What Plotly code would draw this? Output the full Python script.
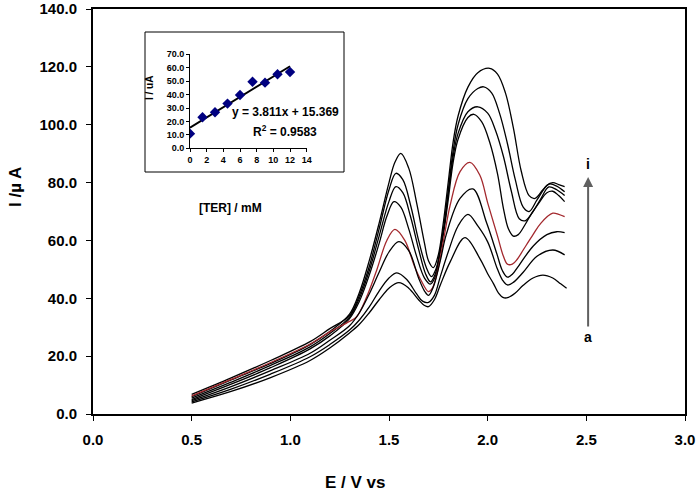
import plotly.graph_objects as go

# ---------------- main voltammograms (E / V, I / uA) ----------------
E1 = [0.5,0.7,0.9,1.1,1.2,1.3,1.35,1.40,1.45,1.50,1.53,1.56,1.60,1.64,1.68,1.70,1.725,1.75,1.775,1.80,1.825,1.85,1.90,1.95,2.01,2.05,2.09,2.13,2.17,2.21,2.24,2.28,2.31,2.35,2.39]
I1 = [6.0,11.8,17.5,24.0,28.5,34.5,42,53,66,80,87,90.1,85,73,59,53,50.6,55,66,80,94,103,113,118,119.5,117.5,111,99,84,75.5,74.5,77.5,79.5,78.8,76.8]

E2 = [0.5,0.7,0.9,1.1,1.2,1.3,1.35,1.40,1.45,1.50,1.535,1.57,1.61,1.65,1.69,1.715,1.74,1.76,1.78,1.80,1.825,1.85,1.90,1.95,1.98,2.02,2.06,2.10,2.14,2.18,2.21,2.25,2.30,2.33,2.36,2.39]
I2 = [6.8,12.5,18.5,25.0,29.5,34.0,41,51,64,77.5,83.2,81,72,60,50.5,47.5,50.5,57,66,77,91,100,109,112.5,113.1,111,104,93.5,81,71.5,70,74,79,80,79.3,78.6]

E3 = [0.5,0.7,0.9,1.1,1.2,1.3,1.35,1.40,1.45,1.50,1.535,1.57,1.61,1.65,1.685,1.71,1.735,1.755,1.78,1.80,1.825,1.85,1.90,1.95,2.00,2.04,2.08,2.12,2.16,2.19,2.23,2.27,2.31,2.35,2.39]
I3 = [5.5,11.0,16.8,23.2,27.8,33.5,40,49.5,61.5,73.5,78.6,76.5,68,57,48.5,45.7,48.5,55,65,76,89,97,104.5,106.2,104,98,89,77,67.5,66.8,70,74.5,78.5,77.5,75.5]

E4 = [0.5,0.7,0.9,1.1,1.2,1.3,1.35,1.40,1.45,1.49,1.525,1.56,1.60,1.64,1.68,1.71,1.735,1.755,1.78,1.80,1.825,1.85,1.90,1.93,1.97,2.01,2.05,2.08,2.105,2.13,2.155,2.19,2.22,2.26,2.30,2.33,2.36,2.39]
I4 = [5.0,10.3,16.0,22.5,27.0,33.0,39,48,59,68.5,73.4,71.5,64,54.5,47,44.9,47.5,54,64,74,87,95,102.5,103.6,101,94,83,71,64,61.5,62,65.5,69,73,76.5,77,75.5,73.4]

E5 = [0.5,0.7,0.9,1.1,1.2,1.3,1.336,1.387,1.438,1.489,1.53,1.58,1.63,1.66,1.70,1.72,1.745,1.775,1.81,1.86,1.91,1.96,2.00,2.05,2.08,2.10,2.125,2.15,2.18,2.23,2.27,2.33,2.36,2.39]
I5 = [6.3,12.0,17.8,24.2,28.4,32.0,33.6,40.5,49.8,60,63.8,60,50.9,46.5,42.3,43.5,49,59.6,72.2,83.8,87,82.6,73,61.5,54.5,51.8,51.8,53.5,56.7,62,66,69.4,69,68.2]

E6 = [0.5,0.7,0.9,1.1,1.2,1.3,1.35,1.40,1.45,1.50,1.55,1.60,1.65,1.68,1.70,1.725,1.76,1.79,1.86,1.925,1.995,2.046,2.075,2.10,2.125,2.16,2.23,2.30,2.35,2.39]
I6 = [4.6,9.5,15.0,21.0,25.5,30.5,35,41.5,49,56,59.6,56.5,47,42.5,41,44,53,62,74.5,77.8,66,55.5,49.5,47.3,48.3,51.5,58,62,63,62.7]

E7 = [0.5,0.7,0.9,1.1,1.2,1.3,1.35,1.40,1.45,1.50,1.54,1.59,1.64,1.67,1.70,1.73,1.76,1.80,1.85,1.90,1.95,2.00,2.05,2.075,2.10,2.13,2.18,2.25,2.33,2.39]
I7 = [4.2,8.6,13.8,19.8,24.0,29.0,32.5,37,42.5,47,48.8,46.5,41.5,39,38.6,41,47.5,56,65,69,65,59.5,50,46.3,44.6,45.5,49,54.5,56.7,55]

E8 = [0.5,0.7,0.9,1.1,1.2,1.3,1.35,1.40,1.45,1.50,1.55,1.60,1.65,1.68,1.70,1.73,1.76,1.81,1.885,1.96,2.00,2.03,2.055,2.08,2.105,2.14,2.18,2.23,2.28,2.33,2.37,2.40]
I8 = [3.8,7.8,12.6,18.5,22.8,28.0,31,35,39.5,43.5,45.4,43.5,39.5,37.5,37.1,39.5,44.6,52.6,61,53.8,48.5,45,41.8,40.2,40.3,41.8,44.5,47,48,47,45,43.5]

curves = [(E1, I1), (E2, I2), (E3, I3), (E4, I4), (E5, I5), (E6, I6), (E7, I7), (E8, I8)]
colors = ["black", "black", "black", "black", "#A3282D", "black", "black", "black"]

# ---------------- inset calibration ----------------
conc = [0, 1.5, 3, 4.5, 6, 7.5, 9, 10.5, 12]
ipeak = [10.9, 23.1, 26.8, 33.3, 39.7, 49.6, 48.9, 55.1, 56.8]
slope, intercept = 3.811, 15.369
fit_x = [0, 12]

FONT = "Liberation Sans, Arial, sans-serif"

fig = go.Figure()
for (e, i), c in zip(curves, colors):
    fig.add_trace(go.Scatter(x=e, y=i, mode="lines",
                             line=dict(color=c, width=1.3, shape="spline", smoothing=1.0),
                             showlegend=False, hoverinfo="skip"))

fig.add_trace(go.Scatter(x=fit_x, y=[slope * v + intercept for v in fit_x], mode="lines",
                         line=dict(color="black", width=2), xaxis="x2", yaxis="y2",
                         showlegend=False))
fig.add_trace(go.Scatter(x=conc, y=ipeak, mode="markers",
                         marker=dict(symbol="diamond", size=8, color="#000080"),
                         xaxis="x2", yaxis="y2", showlegend=False))

W, H = 700, 498
L, R, T, B = 93, 15, 9, 84
pw, ph = W - L - R, H - T - B

def px(xp):
    return (xp - L) / pw

def py(yp):
    return (H - B - yp) / ph

bold15 = dict(size=15, family=FONT, weight="bold")
bold9 = dict(size=9, family=FONT, weight="bold")

fig.update_layout(
    width=W, height=H,
    margin=dict(l=L, r=R, t=T, b=B, autoexpand=False),
    paper_bgcolor="white", plot_bgcolor="white",
    font=dict(family=FONT, color="black"),
    xaxis=dict(range=[0, 3], dtick=0.5, tick0=0, tickformat=".1f", automargin=False,
               showline=True, linecolor="black", linewidth=2, mirror=True,
               ticks="outside", ticklen=5, tickcolor="black", showgrid=False, zeroline=False,
               tickfont=bold15, ticklabelstandoff=6),
    yaxis=dict(range=[0, 140], dtick=20, tick0=0, tickformat=".1f", automargin=False,
               showline=True, linecolor="black", linewidth=2, mirror=True,
               ticks="outside", ticklen=5, tickcolor="black", showgrid=False, zeroline=False,
               tickfont=bold15, ticklabelstandoff=6),
    xaxis2=dict(domain=[px(190), px(306.7)], range=[0, 14], dtick=2, anchor="y2", automargin=False,
                showline=True, linecolor="black", linewidth=1, ticks="outside", ticklen=3,
                tickcolor="black", showgrid=False, zeroline=False, tickfont=bold9),
    yaxis2=dict(domain=[py(148.3), py(54.3)], range=[0, 70], dtick=10, tickformat=".1f",
                anchor="x2", automargin=False, showline=True, linecolor="black", linewidth=1,
                ticks="outside", ticklen=3, tickcolor="black", showgrid=False, zeroline=False,
                tickfont=bold9),
    shapes=[dict(type="rect", xref="paper", yref="paper",
                 x0=px(145), x1=px(344), y0=py(172), y1=py(32),
                 line=dict(color="black", width=1), fillcolor="white", layer="below")],
)

ann = [
    dict(text="<b>E / V vs</b>", x=px(355), y=py(483), font=dict(size=17)),
    dict(text="<b>I /µ A</b>", x=px(15), y=py(187), textangle=-90, font=dict(size=17)),
    dict(text="<b>[TER] / mM</b>", x=px(230), y=py(208), font=dict(size=12)),
    dict(text="<b>I / uA</b>", x=px(149), y=py(88), textangle=-90, font=dict(size=10)),
    dict(text="<b>y = 3.811x + 15.369</b>", x=px(285), y=py(112), font=dict(size=12)),
    dict(text="<b>R<sup>2</sup> = 0.9583</b>", x=px(285), y=py(131), font=dict(size=12)),
]
for a in ann:
    a.update(xref="paper", yref="paper", showarrow=False, xanchor="center", yanchor="middle")
    fig.add_annotation(**a)

fig.add_annotation(x=2.509, y=81.9, ax=2.509, ay=29.7, xref="x", yref="y", axref="x", ayref="y",
                   showarrow=True, arrowhead=2, arrowsize=1, arrowwidth=2, arrowcolor="#606060", text="")
fig.add_annotation(x=2.509, y=86.4, xref="x", yref="y", text="<b>i</b>", showarrow=False,
                   font=dict(size=14))
fig.add_annotation(x=2.509, y=26.6, xref="x", yref="y", text="<b>a</b>", showarrow=False,
                   font=dict(size=14))

fig.write_html("out.html")
